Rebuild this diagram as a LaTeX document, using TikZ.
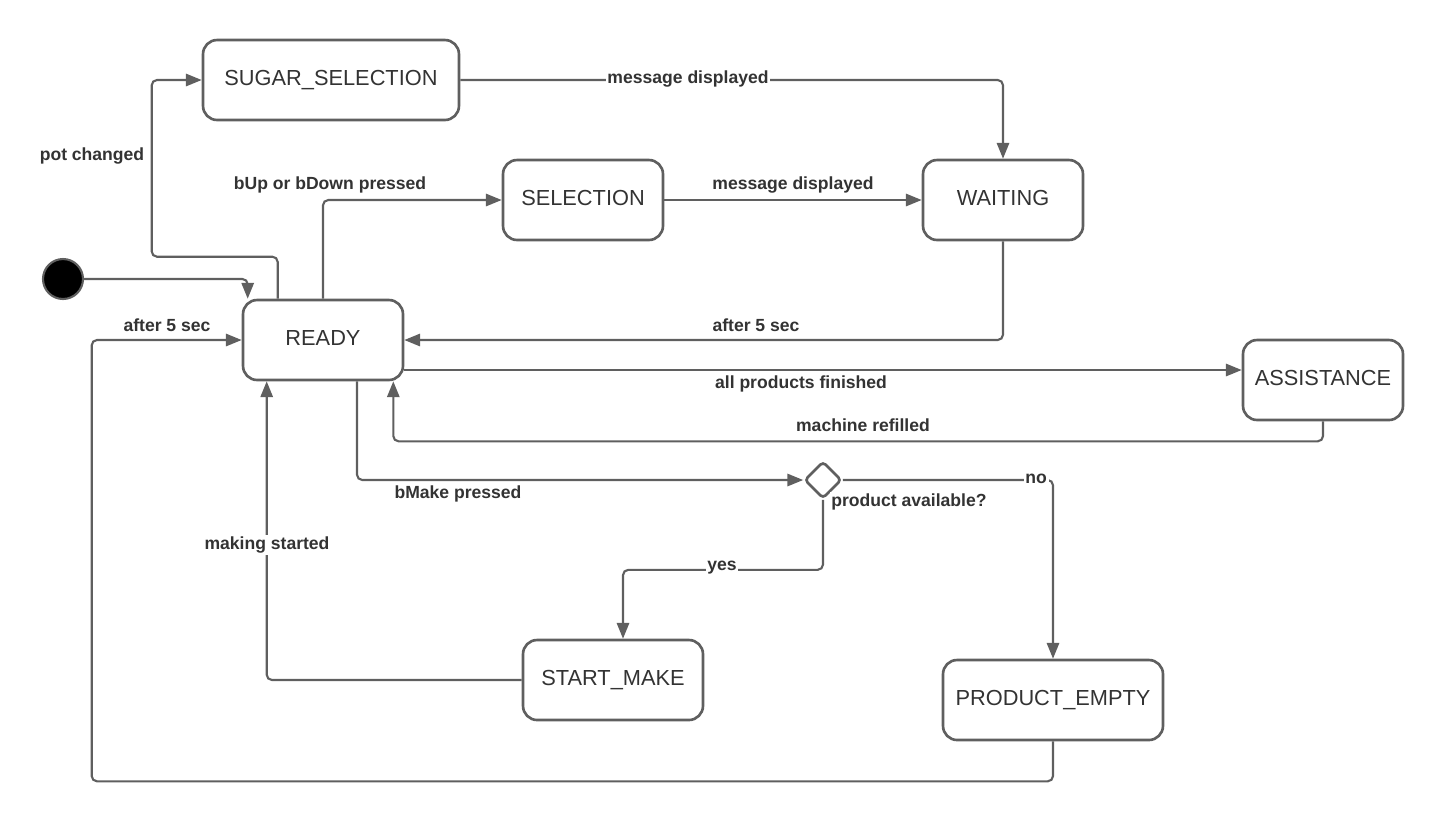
\documentclass[tikz,border=0pt]{standalone}
\usepackage{fontspec}
\setmainfont{Liberation Sans}
\usepackage{xcolor}
\usetikzlibrary{arrows.meta,shapes.geometric,calc}
\definecolor{linegray}{HTML}{5F5F5F}
\definecolor{textgray}{HTML}{333333}
\tikzset{state/.style={draw=linegray,line width=1.5pt,rounded corners=8pt,fill=white,
   minimum width=3.2cm,minimum height=1.6cm,text=textgray,text depth=2.4pt,
   font=\fontsize{12.4}{14}\selectfont},
 lbl/.style={fill=white,inner sep=1pt,text=textgray,font=\fontsize{10}{12}\selectfont\bfseries},
 arr/.style={draw=linegray,line width=1.2pt,rounded corners=3pt,
   -{Triangle[length=9pt,width=7pt]}},
 }

\begin{document}
\begin{tikzpicture}[x=0.02cm,y=-0.02cm]
        \useasboundingbox (0,0) rectangle (1443,823);
        \node[circle,draw=linegray,line width=1.2pt,fill=black,minimum size=0.8cm,inner sep=0pt] (init) at (63,279) {};
        \node[state,minimum width=5.12cm] (sugar) at (331,80) {SUGAR\_SELECTION};
        \node[state] (selection) at (583,200) {SELECTION};
        \node[state] (waiting) at (1003,200) {WAITING};
        \node[state] (ready) at (323,340) {READY};
        \node[state] (assist) at (1323,380) {ASSISTANCE};
        \node[state,minimum width=3.6cm] (startmake) at (613,680) {START\_MAKE};
        \node[state,minimum width=4.4cm] (pempty) at (1053,700) {PRODUCT\_EMPTY};
        \node[diamond,draw=linegray,line width=1.5pt,rounded corners=2pt,fill=white,
            minimum size=0.74cm,inner sep=0pt] (dec) at (823,480) {};

        \draw[arr] (init) -| ($(ready.north west)+(6,0)$);
        \draw[arr] ($(ready.north west)+(36,0)$) -- ++(0,-42) -- ++(-126,0) |- (sugar.west);
        \draw[arr] (ready.north) |- (selection.west);
        \draw[arr] (selection) -- (waiting);
        \draw[arr] (sugar.east) -| (waiting.north);
        \draw[arr] (waiting.south) |- (ready.east);
        \draw[arr] ($(ready.east)+(0,30)$) -- ($(assist.west)+(0,-10)$);
        \draw[arr] (assist.south) -- ++(0,20) -| ($(ready.south east)+(-11,0)$);
        \draw[arr] ($(ready.south)+(34,0)$) |- (dec.west);
        \draw[arr] (dec.south) -- ++(0,70) -| ($(startmake.north)+(10,0)$);
        \draw[arr] (dec.east) -| (pempty.north);
        \draw[arr] (startmake.west) -| ($(ready.south west)+(25,0)$);
        \draw[arr] (pempty.south) -- ++(0,40) -| ($(ready.west)+(-150,0)$) -- (ready.west);

        \node[lbl] (lpot) at (92,156) {pot changed};
        \node[lbl] (lbup) at (330,185) {bUp or bDown pressed};
        \node[lbl] (lmsgtop) at (688,79) {message displayed};
        \node[lbl] (lmsg) at (793,185) {message displayed};
        \node[lbl] (lafter) at (756,325) {after 5 sec};
        \node[lbl] (lafterb) at (167,325) {after 5 sec};
        \node[lbl] (lall) at (801,384) {all products finished};
        \node[lbl] (lrefill) at (863,425) {machine refilled};
        \node[lbl] (lmake) at (458,494) {bMake pressed};
        \node[lbl] (lavail) at (909,502) {product available?};
        \node[lbl] (lyes) at (722,568) {yes};
        \node[lbl] (lno) at (1036,479) {no};
        \node[lbl] (lstarted) at (267,545) {making started};
    \end{tikzpicture}
\end{document}
